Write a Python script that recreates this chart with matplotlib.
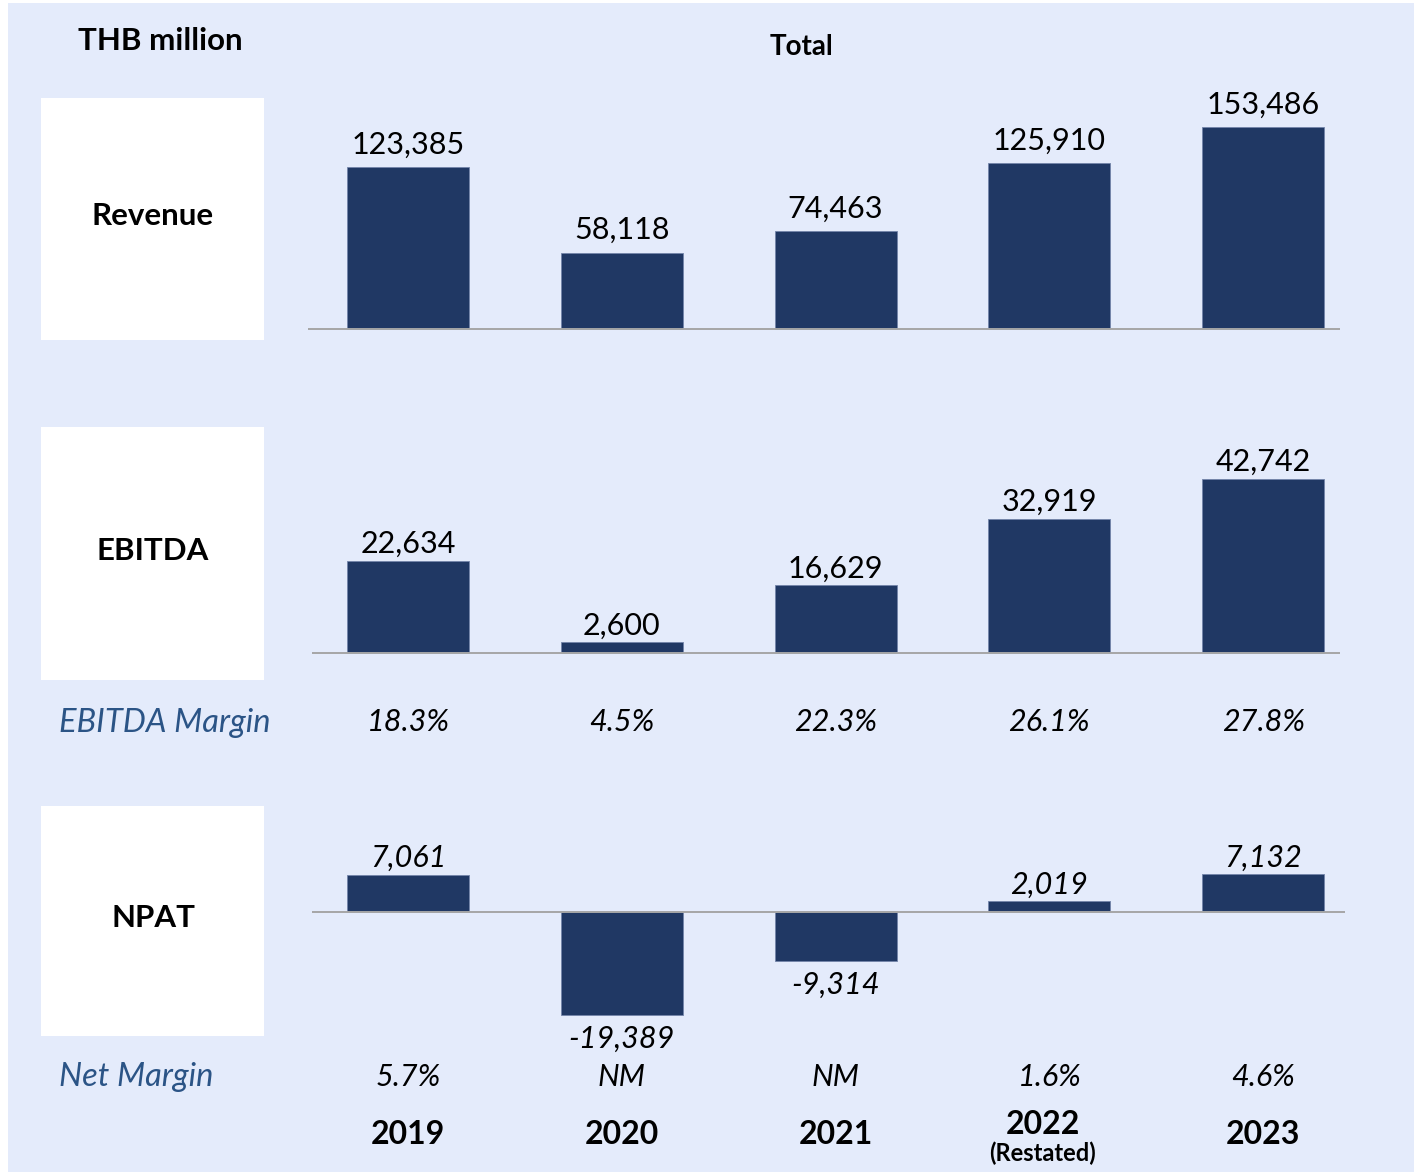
import matplotlib
matplotlib.use("Agg")
import matplotlib.pyplot as plt
from matplotlib.patches import Rectangle
from matplotlib.transforms import blended_transform_factory

years = ["2019", "2020", "2021", "2022", "2023"]
revenue = [123385, 58118, 74463, 125910, 153486]
ebitda = [22634, 2600, 16629, 32919, 42742]
npat = [7061, -19389, -9314, 2019, 7132]
ebitda_margin = ["18.3%", "4.5%", "22.3%", "26.1%", "27.8%"]
net_margin = ["5.7%", "NM", "NM", "1.6%", "4.6%"]

W, H = 1414, 1172
BG = "#E4EBFB"
NAVY = "#203864"
EDGE = "#7384AA"
BLUE_TXT = "#2B5486"
FONT = "Lato"

plt.rcParams["font.family"] = [FONT, "DejaVu Sans"]

fig = plt.figure(figsize=(W / 100, H / 100), dpi=100)
fig.patch.set_facecolor("white")
fig.patches.append(Rectangle((8 / W, 0), 1 - 8 / W, 1 - 3 / H, transform=fig.transFigure,
                             facecolor=BG, edgecolor="none", zorder=-2))

# pixel helpers (origin top-left)
def fx(x):
    return x / W

def fy(y):
    return 1 - y / H

X0, DX = 408, 213.8   # first bar centre / spacing in px
x = list(range(len(years)))

def panel(left, top, right, base, bottom, scale, values, fmt, italic=False, pad=(2, -3)):
    ax = fig.add_axes([fx(left), fy(bottom), (right - left) / W, (bottom - top) / H])
    ax.set_xlim((left - X0) / DX, (right - X0) / DX)
    ax.set_ylim(-(bottom - base) / scale, (base - top) / scale)
    ax.patch.set_alpha(0)
    for s in ax.spines.values():
        s.set_visible(False)
    ax.set_xticks([])
    ax.set_yticks([])
    ax.bar(x, values, width=122 / DX, color=NAVY, edgecolor=EDGE, linewidth=0.6, zorder=2)
    ax.axhline(0, color="#A6A6A6", lw=1.4, zorder=3)
    style = "italic" if italic else "normal"
    for xi, v in zip(x, values):
        off = pad[0] if v >= 0 else pad[1]
        ax.annotate(fmt(v), (xi, v), xytext=(0, off), textcoords="offset points",
                    ha="center", va="bottom" if v >= 0 else "top",
                    fontsize=22, fontstyle=style, color="black", zorder=4)
    return ax

comma = lambda v: f"{v:,}"

panel(308, 60, 1340, 329, 340, 202 / 153486, revenue, comma, pad=(6, -3))
panel(312, 420, 1340, 653, 665, 174 / 42742, ebitda, comma, pad=(2, -3))
ax3 = panel(312, 820, 1345, 912, 1045, 0.0053, npat, comma, italic=True, pad=(2, -7))

# white label boxes on the left
for top, bottom, name in [(98, 340, "Revenue"), (427, 680, "EBITDA"), (806, 1036, "NPAT")]:
    fig.patches.append(Rectangle((fx(41), fy(bottom)), (264 - 41) / W, (bottom - top) / H,
                                 transform=fig.transFigure, facecolor="white",
                                 edgecolor="none", zorder=-1))
    fig.text(fx(153), fy((top + bottom) / 2 - 3), name, ha="center", va="center",
             fontsize=22.5, fontweight="bold", zorder=5)

fig.text(fx(160), fy(41), "THB million", ha="center", va="center",
         fontsize=22.5, fontweight="bold")
fig.text(fx(801), fy(47), "Total", ha="center", va="center",
         fontsize=20, fontweight="bold")

fig.text(fx(59), fy(723), "EBITDA Margin", ha="left", va="center",
         fontsize=23.5, fontstyle="italic", color=BLUE_TXT)
fig.text(fx(59), fy(1077), "Net Margin", ha="left", va="center",
         fontsize=23.5, fontstyle="italic", color=BLUE_TXT)

# row labels share the bar x scale
tr = blended_transform_factory(ax3.transData, fig.transFigure)
for xi, em, nm, yr in zip(x, ebitda_margin, net_margin, years):
    ax3.text(xi, fy(722), em, transform=tr, ha="center", va="center",
             fontsize=22, fontstyle="italic")
    ax3.text(xi, fy(1077), nm, transform=tr, ha="center", va="center",
             fontsize=22, fontstyle="italic")
    if yr == "2022":
        ax3.text(xi - 0.03, fy(1125), yr, transform=tr, ha="center", va="center",
                 fontsize=23, fontweight="bold")
        ax3.text(xi - 0.03, fy(1153), "(Restated)", transform=tr, ha="center", va="center",
                 fontsize=17, fontweight="bold")
    else:
        ax3.text(xi, fy(1134), yr, transform=tr, ha="center", va="center",
                 fontsize=23, fontweight="bold")

fig.savefig("out.png", dpi=100, facecolor=fig.get_facecolor())
